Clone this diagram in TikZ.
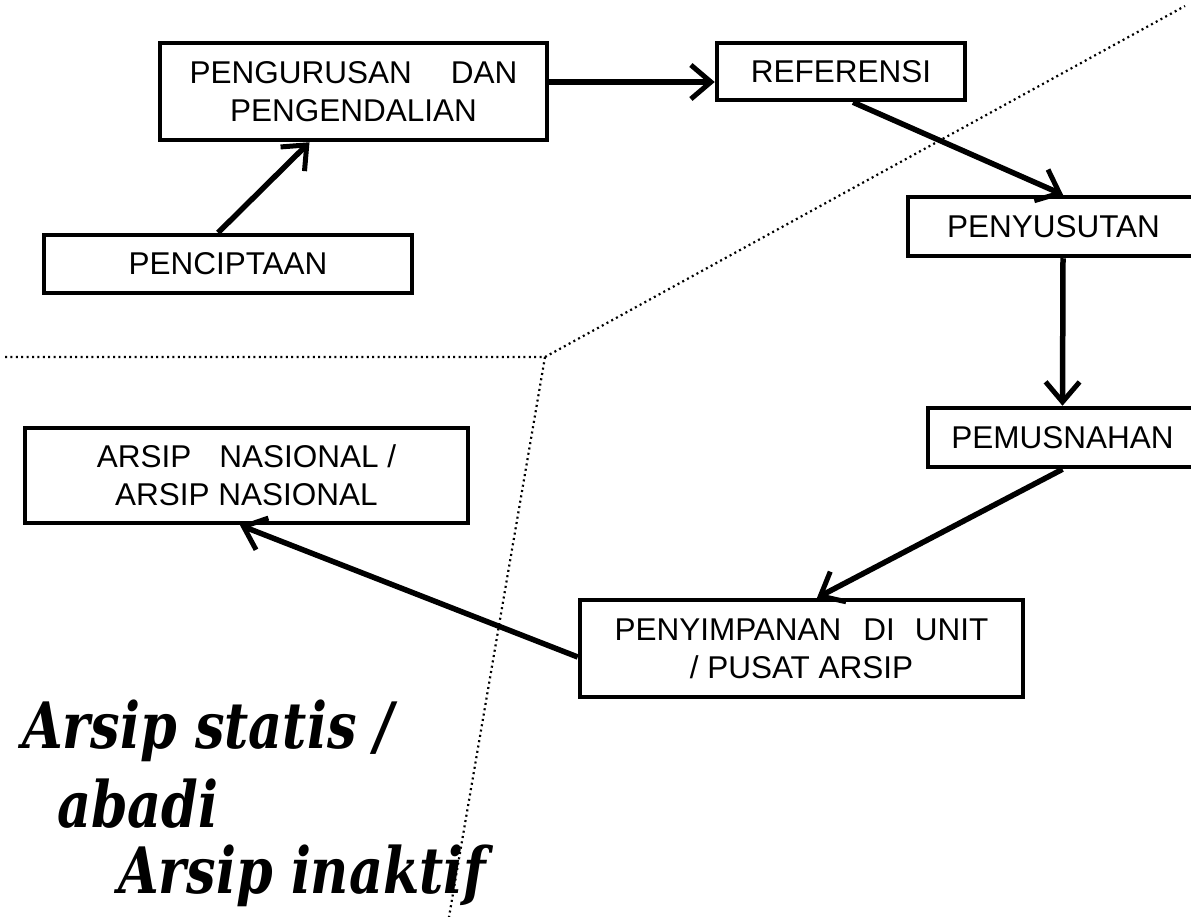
\documentclass[tikz,border=0pt]{standalone}
\usepackage{fontspec}
\usepackage{graphicx}
\setmainfont{Liberation Sans}
\newfontfamily\bigital{DejaVu Serif}
\usetikzlibrary{arrows.meta}
\tikzset{
  box/.style={draw, line width=4.5pt, inner sep=0pt, align=center, font=\fontsize{31.5}{38}\selectfont},
  flow/.style={line width=5.5pt, -{Straight Barb[length=20pt,width=34pt,line width=5pt]}},
  divider/.style={line width=2.2pt, dash pattern=on 2pt off 3.4pt},
  big/.style={anchor=base west, inner sep=0pt, font=\bigital\bfseries\itshape\fontsize{64}{72}\selectfont}
}
\newcommand{\narrowtext}[1]{\scalebox{0.82}[1]{#1}}
\begin{document}
\begin{tikzpicture}[x=1pt,y=-1pt]
\useasboundingbox (0,0) rectangle (1191,917);
% dotted dividers
\coordinate (hl) at (5,357);
\coordinate (j) at (545,357);
\coordinate (tr) at (1185,6);
\coordinate (bt) at (449,917);
\draw[divider] (hl) -- (j) -- (tr);
\draw[divider] (j) -- (bt);
% boxes
\node[box, minimum width=387pt, minimum height=97pt] (pg) at (353.5,91.5) {PENGURUSAN\hspace{39pt}DAN\\PENGENDALIAN};
\node[box, minimum width=248pt, minimum height=57pt] (ref) at (841,71.5) {REFERENSI};
\node[box, minimum width=368pt, minimum height=58pt] (pc) at (228,264) {PENCIPTAAN};
\node[box, minimum width=291pt, minimum height=59pt] (py) at (1053.5,226.5) {PENYUSUTAN};
\node[box, minimum width=269pt, minimum height=59pt] (pm) at (1062.5,437.5) {PEMUSNAHAN};
\node[box, minimum width=443pt, minimum height=95pt] (an) at (246.5,475.5) {ARSIP\hspace{28pt}NASIONAL /\\ARSIP NASIONAL};
\node[box, minimum width=443pt, minimum height=97pt] (ps) at (801.5,648.5) {PENYIMPANAN\hspace{22pt}DI\hspace{20pt}UNIT\\/ PUSAT ARSIP};
% connectors
\draw[flow] ([xshift=-10pt]pc.north) -- ([xshift=-44pt]pg.south);
\draw[flow] ([yshift=9.5pt]pg.east) -- ([yshift=-10.5pt]ref.west);
\draw[flow] ([xshift=12pt]ref.south) -- ([xshift=9.5pt]py.north);
\draw[flow] ([xshift=9.5pt]py.south) -- (pm.north);
\draw[flow] (pm.south) -- ([xshift=15.5pt]ps.north);
\draw[flow] ([yshift=-8.5pt]ps.west) -- ([xshift=-6.5pt]an.south);
% labels
\node[big] (l1) at (22,748) {\narrowtext{Arsip statis /}};
\node[big] (l2) at (57,827) {\narrowtext{abadi}};
\node[big] (l3) at (118,893) {\narrowtext{Arsip inaktif}};
\end{tikzpicture}
\end{document}
